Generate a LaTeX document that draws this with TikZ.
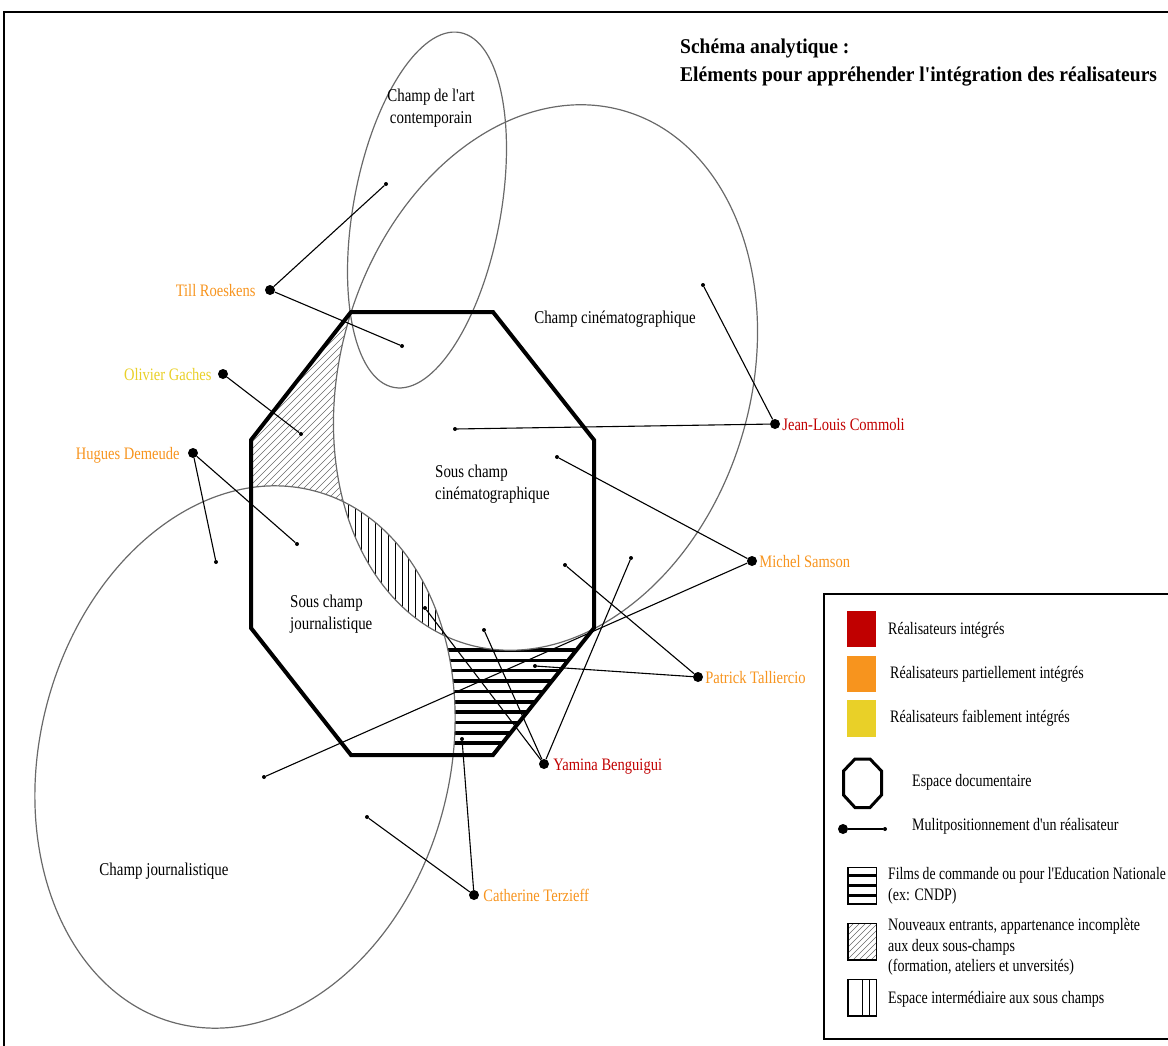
\documentclass[tikz,border=0pt]{standalone}
\usepackage{fontspec}
\setmainfont{Liberation Serif}[FakeStretch=0.8, Ligatures=TeXOff]
\newfontfamily\lblfont{Liberation Serif}[FakeStretch=0.83, Ligatures=TeXOff]
\newfontfamily\titlefont{Liberation Serif}[FakeStretch=0.93, Ligatures=TeXOff]
\definecolor{cred}{RGB}{192,0,0}
\definecolor{corange}{RGB}{247,148,30}
\definecolor{cyellow}{RGB}{233,208,40}
\definecolor{ellc}{RGB}{105,105,105}
\begin{document}
\begin{tikzpicture}[x=1pt,y=-1pt,
  ellipseline/.style={draw=ellc, line width=1.2pt},
  octo/.style={draw=black, line width=4pt, line join=miter},
  conn/.style={draw=black, line width=1.1pt},
  bigdot/.style={circle, fill=black, inner sep=0pt, minimum size=10pt},
  smalldot/.style={circle, fill=black, inner sep=0pt, minimum size=4pt},
  regionlbl/.style={font=\lblfont\fontsize{18}{21.5}\selectfont, align=center, inner sep=0pt},
  person/.style={font=\lblfont\fontsize{17.5}{21}\selectfont, inner sep=0pt},
  legtext/.style={font=\fontsize{17.5}{20.5}\selectfont, anchor=west, inner sep=0pt, align=left},
  hatchline/.style={draw=ellc, line width=0.6pt},
]
\useasboundingbox (0,0) rectangle (1168,1045);
\clip (0,0) rectangle (1168,1045);
\def\octpath{(351,312) -- (493,312) -- (594,440) -- (594,628) -- (493,755) -- (351,755) -- (251,628) -- (251,440) -- cycle}
\def\cineell{(545.5,377.5) ellipse [x radius=205pt, y radius=278pt, rotate=-16.7]}
\def\journell{(245,757) ellipse [x radius=205pt, y radius=275pt, rotate=-14.5]}
\def\artell{(427,210) ellipse [x radius=73.5pt, y radius=180.5pt, rotate=-10.56]}
\def\bigrect{(-50,-50) rectangle (1250,1150)}

% frame
\draw[line width=1.5pt] (4,12) rectangle (1220,1100);

% diagonal hatch (left component)
\begin{scope}[even odd rule]
  \clip \octpath;
  \clip \bigrect \cineell;
  \clip \bigrect \journell;
  \clip (240,300) rectangle (380,530);
  \foreach \i in {0,7,...,420} \draw[hatchline] (\i,540) -- ++(250,-250);
\end{scope}
% horizontal lines (bottom right component)
\begin{scope}[even odd rule]
  \clip \octpath;
  \clip \bigrect \cineell;
  \clip \bigrect \journell;
  \clip (400,600) rectangle (620,760);
  \foreach \k in {0,...,9} \draw[line width=3.5pt] (400,650+10.35*\k) -- (620,650+10.35*\k);
\end{scope}
% vertical lines (lens)
\begin{scope}
  \clip \cineell;
  \clip \journell;
  \foreach \i in {0,...,15} \draw[line width=0.8pt] (348.3+6.7*\i,480) -- (348.3+6.7*\i,650);
\end{scope}

% ellipses
\draw[ellipseline] \artell;
\draw[ellipseline] \cineell;
\draw[ellipseline] \journell;

% octagon
\draw[octo] \octpath;

% region labels
\node[regionlbl] (lart) at (431,108) {Champ de l'art\\contemporain};
\node[regionlbl] (lcine) at (615,319) {Champ cinématographique};
\node[regionlbl, align=left, anchor=west] (lscine) at (435,484) {Sous champ\\cinématographique};
\node[regionlbl, align=left, anchor=west] (lsjour) at (290,614) {Sous champ\\journalistique};
\node[regionlbl] (ljour) at (164,871) {Champ journalistique};

% title
\node[font=\titlefont\bfseries\fontsize{21}{28}\selectfont, align=left, anchor=west, inner sep=0pt] (title) at (680,63) {Schéma analytique :\\Eléments pour appréhender l'intégration des réalisateurs};

% person dots
\node[bigdot] (till) at (270,290) {};
\node[bigdot] (olivier) at (223,374) {};
\node[bigdot] (hugues) at (193,453) {};
\node[bigdot] (commoli) at (775,424) {};
\node[bigdot] (samson) at (752,561) {};
\node[bigdot] (talliercio) at (698,677) {};
\node[bigdot] (benguigui) at (544,764) {};
\node[bigdot] (terzieff) at (474,895) {};
% small dots
\node[smalldot] (t1) at (386,184) {};
\node[smalldot] (t2) at (402,346) {};
\node[smalldot] (o1) at (301,434) {};
\node[smalldot] (h1) at (216,562) {};
\node[smalldot] (h2) at (297,544) {};
\node[smalldot] (c1) at (455,429) {};
\node[smalldot] (c2) at (703,285) {};
\node[smalldot] (s1) at (557,457) {};
\node[smalldot] (s2) at (264,777) {};
\node[smalldot] (p1) at (565,565) {};
\node[smalldot] (p2) at (535,666) {};
\node[smalldot] (y1) at (425,608) {};
\node[smalldot] (y2) at (484,630) {};
\node[smalldot] (y3) at (631,558) {};
\node[smalldot] (ct1) at (367,817) {};
\node[smalldot] (ct2) at (462,739) {};

% connectors
\draw[conn] (till) -- (t1);
\draw[conn] (till) -- (t2);
\draw[conn] (olivier) -- (o1);
\draw[conn] (hugues) -- (h1);
\draw[conn] (hugues) -- (h2);
\draw[conn] (commoli) -- (c1);
\draw[conn] (commoli) -- (c2);
\draw[conn] (samson) -- (s1);
\draw[conn] (samson) -- (s2);
\draw[conn] (talliercio) -- (p1);
\draw[conn] (talliercio) -- (p2);
\draw[conn] (benguigui) -- (y1);
\draw[conn] (benguigui) -- (y2);
\draw[conn] (benguigui) -- (y3);
\draw[conn] (terzieff) -- (ct1);
\draw[conn] (terzieff) -- (ct2);

% person names
\node[person, text=corange, anchor=base east] (ntill) at ([shift={(-9,6)}]till.west) {Till Roeskens};
\node[person, text=cyellow, anchor=base east] (nolivier) at ([shift={(-6,6)}]olivier.west) {Olivier Gaches};
\node[person, text=corange, anchor=base east] (nhugues) at ([shift={(-8,6)}]hugues.west) {Hugues Demeude};
\node[person, text=cred, anchor=base west] (ncommoli) at ([shift={(2,6)}]commoli.east) {Jean-Louis Commoli};
\node[person, text=corange, anchor=base west] (nsamson) at ([shift={(2,6)}]samson.east) {Michel Samson};
\node[person, text=corange, anchor=base west] (ntalliercio) at ([shift={(2,6)}]talliercio.east) {Patrick Talliercio};
\node[person, text=cred, anchor=base west] (nbenguigui) at ([shift={(4,6)}]benguigui.east) {Yamina Benguigui};
\node[person, text=corange, anchor=base west] (nterzieff) at ([shift={(4,6)}]terzieff.east) {Catherine Terzieff};

% legend
\draw[line width=1.5pt] (824,594) rectangle (1220,1039);
\fill[cred] (847,611) rectangle (876,647);
\fill[corange] (847,656) rectangle (876,692);
\fill[cyellow] (847,700) rectangle (876,737);
\node[legtext] (lg1) at (888,630) {Réalisateurs intégrés};
\node[legtext] (lg2) at (890,674) {Réalisateurs partiellement intégrés};
\node[legtext] (lg3) at (890,718) {Réalisateurs faiblement intégrés};
\draw[line width=3pt, line join=miter] (855,759) -- (870,759) -- (881.5,771) -- (881.5,795) -- (870,807.5) -- (855,807.5) -- (843.5,795) -- (843.5,771) -- cycle;
\node[legtext] (lg4) at (912,782) {Espace documentaire};
\node[bigdot] (lgd1) at (843,829) {};
\node[smalldot] (lgd2) at (885,829) {};
\draw[conn] (lgd1) -- (lgd2);
\node[legtext] (lg5) at (912,826) {Mulitpositionnement d'un réalisateur};
\draw[line width=1.5pt] (848,867.5) rectangle (876.5,904);
\foreach \yy in {875.7,885.7,895.7} \draw[line width=3pt] (848,\yy) -- (876.5,\yy);
\node[legtext] (lg6) at (888,886) {\scalebox{0.975}[1]{Films de commande ou pour l'Education Nationale}\\(ex: CNDP)};
\begin{scope}
  \clip (848,923.5) rectangle (876.5,960);
  \foreach \i in {800,806,...,900} \draw[hatchline] (\i,965) -- ++(50,-50);
\end{scope}
\draw[line width=1.5pt] (848,923.5) rectangle (876.5,960);
\node[legtext, font=\fontsize{17.5}{20.3}\selectfont] (lg7) at (888,947) {Nouveaux entrants, appartenance incomplète\\aux deux sous-champs\\(formation, ateliers et unversités)};
\draw[line width=1.5pt] (848,979.5) rectangle (876.5,1016);
\draw[line width=1.2pt] (862.3,979.5) -- (862.3,1016) (869.3,979.5) -- (869.3,1016);
\node[legtext] (lg8) at (888,999) {Espace intermédiaire aux sous champs};
\end{tikzpicture}
\end{document}
